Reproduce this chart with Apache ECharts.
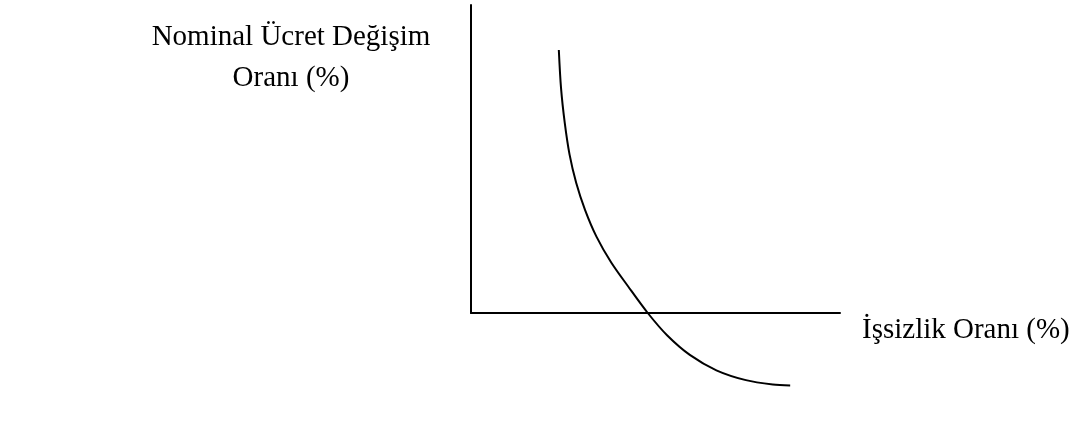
<!DOCTYPE html>
<html>
<head>
<meta charset="utf-8">
<script src="https://cdn.jsdelivr.net/npm/echarts@6/dist/echarts.min.js"></script>
<style>
html,body{margin:0;padding:0;background:#fff;}
#chart{width:1076px;height:433px;}
</style>
</head>
<body>
<div id="chart"></div>
<script>
// Phillips curve (axis scale 0-100 on both axes)
var unemploymentRate = [23.8, 24.4, 25.4, 26.7, 28.5, 30.9, 34.0, 38.0, 42.6, 47.9, 53.2, 59.3, 66.5, 74.5, 81.8, 86.5];
var wageChangeRate   = [85.4, 73.0, 61.8, 51.5, 42.3, 33.5, 24.8, 16.4, 8.6, 0.0, -7.3, -13.6, -18.6, -21.8, -23.2, -23.5];
var xAxisTitle = 'İşsizlik Oranı (%)';
var yAxisTitle = 'Nominal Ücret Değişim\nOranı (%)';

var curve = unemploymentRate.map(function (u, i) { return [u, wageChangeRate[i]]; });

var chart = echarts.init(document.getElementById('chart'), null, {renderer: 'canvas'});
var font = '"Liberation Serif", "Times New Roman", serif';
chart.setOption({
  backgroundColor: '#ffffff',
  animation: false,
  grid: {left: 471, top: 5, right: 236, bottom: 120, containLabel: false},
  xAxis: {
    type: 'value', min: 0, max: 100,
    name: xAxisTitle, nameLocation: 'end', nameGap: 22,
    nameTextStyle: {fontFamily: font, fontSize: 29, color: '#000', lineHeight: 34, align: 'left', verticalAlign: 'top'},
    axisLine: {show: true, onZero: false, lineStyle: {color: '#000', width: 2}},
    axisTick: {show: false}, axisLabel: {show: false}, splitLine: {show: false}
  },
  yAxis: {
    type: 'value', min: 0, max: 100,
    name: yAxisTitle, nameLocation: 'end', nameGap: -12,
    nameTextStyle: {fontFamily: font, fontSize: 29, color: '#000', lineHeight: 41, padding: [0, 360, 0, 0], align: 'center', verticalAlign: 'top'},
    axisLine: {show: true, onZero: false, lineStyle: {color: '#000', width: 2}},
    axisTick: {show: false}, axisLabel: {show: false}, splitLine: {show: false}
  },
  series: [{
    type: 'line',
    data: curve,
    smooth: 0.3,
    clip: false,
    showSymbol: false,
    symbol: 'none',
    lineStyle: {color: '#000', width: 2}
  }]
});
</script>
</body>
</html>
